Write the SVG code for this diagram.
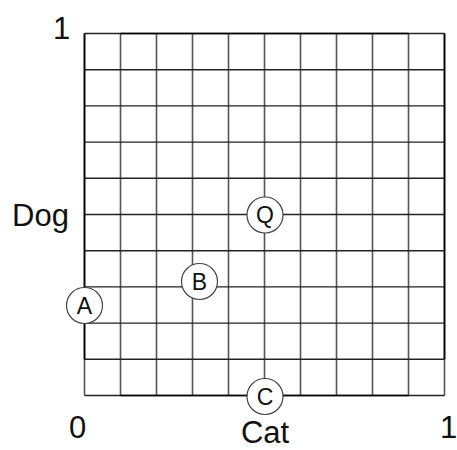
<svg xmlns="http://www.w3.org/2000/svg" width="457" height="450" viewBox="0 0 457 450">
<style>
.v{stroke:#555;stroke-width:1.6;fill:none}
.h{stroke:#222;stroke-width:1.4;fill:none}
.f{stroke:#000;stroke-width:1.7;fill:none}
.lbl{font-family:"Liberation Sans",Arial,sans-serif;font-size:31px;fill:#111}
.nc{fill:#fff;stroke:#444;stroke-width:1.2}
.nt{font-family:"Liberation Sans",Arial,sans-serif;font-size:23px;fill:#111;text-anchor:middle}
</style>
<rect width="457" height="450" fill="#fff"/>
<g id="connectors">
<path class="v" d="M84.5 33.5V395.5M120.5 33.5V395.5M156.5 33.5V395.5M192.5 33.5V395.5M228.5 33.5V395.5M264.5 33.5V395.5M300.5 33.5V395.5M336.5 33.5V395.5M372.5 33.5V395.5M408.5 33.5V395.5M444.5 33.5V395.5"/>
<path class="h" d="M84.5 33.5H444.5M84.5 69.7H444.5M84.5 105.9H444.5M84.5 142.1H444.5M84.5 178.3H444.5M84.5 214.5H444.5M84.5 250.7H444.5M84.5 286.9H444.5M84.5 323.1H444.5M84.5 359.3H444.5M84.5 395.5H444.5"/>
<path class="f" d="M120.5 33.5H408.5M120.5 395.5H408.5M84.5 33.5V359.3M444.5 33.5V359.3"/>
</g>
<g id="labels">
<text class="lbl" x="53" y="39">1</text>
<text class="lbl" x="12" y="226">Dog</text>
<text class="lbl" x="69" y="438">0</text>
<text class="lbl" x="440" y="438">1</text>
<text class="lbl" x="265" y="443" text-anchor="middle">Cat</text>
</g>
<g id="node-A"><circle class="nc" cx="84.5" cy="305.5" r="18"/><text class="nt" x="84.5" y="313.5">A</text></g>
<g id="node-B"><circle class="nc" cx="199.5" cy="281.5" r="18"/><text class="nt" x="199.5" y="289.5">B</text></g>
<g id="node-Q"><circle class="nc" cx="265" cy="215" r="18"/><text class="nt" x="265" y="223">Q</text></g>
<g id="node-C"><circle class="nc" cx="265" cy="396.5" r="18"/><text class="nt" x="265" y="404.5">C</text></g>
</svg>
